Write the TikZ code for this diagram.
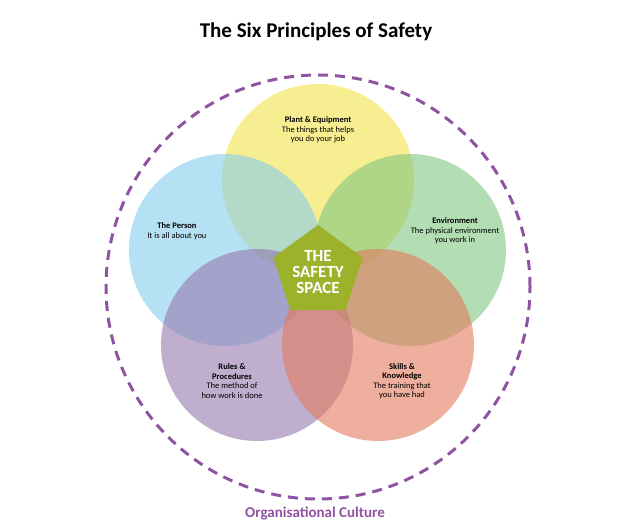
\documentclass[tikz,border=0pt]{standalone}
\usepackage{fontspec}
\setmainfont{Carlito}
\usetikzlibrary{shapes.geometric}
\definecolor{cy}{HTML}{F2E24A}
\definecolor{cb}{HTML}{86CDEE}
\definecolor{cg}{HTML}{80C67E}
\definecolor{cp}{HTML}{9478AE}
\definecolor{cr}{HTML}{E47A5E}
\definecolor{dash}{HTML}{8E54A2}
\definecolor{pent}{HTML}{9CB22A}
\tikzset{venn/.style={circle,minimum size=192pt,inner sep=0pt,fill opacity=0.6,text opacity=1},
lbl/.style={align=center,font=\fontsize{8.5}{9.5}\selectfont,text=black}}
\begin{document}
\begin{tikzpicture}[x=1pt,y=-1pt]
\useasboundingbox (0,0) rectangle (628,531);
\node (title) at (316,32) {\fontsize{21}{24}\selectfont\bfseries The Six Principles of Safety};
\node[circle,draw=dash,line width=3pt,dash pattern=on 10pt off 7pt,minimum size=424pt,inner sep=0pt] (culture) at (318,287) {};
\node[venn,fill=cy] (plant) at (318,180) {};
\node[venn,fill=cb] (person) at (225,250) {};
\node[venn,fill=cg] (env) at (410,250) {};
\node[venn,fill=cp] (rules) at (257,345) {};
\node[venn,fill=cr] (skills) at (378,345) {};
\node[regular polygon,regular polygon sides=5,fill=pent,minimum size=94pt,inner sep=0pt,align=center,text=white,font=\fontsize{17}{16}\selectfont\bfseries] (core) at (318,272) {THE\\SAFETY\\SPACE};
\node[lbl] (tplant) at (318,130) {\textbf{Plant \& Equipment}\\The things that helps\\you do your job};
\node[lbl] (tperson) at (177,231) {\textbf{The Person}\\It is all about you};
\node[lbl] (tenv) at (455,231) {\textbf{Environment}\\The physical environment\\you work in};
\node[lbl] (trules) at (232,381) {\textbf{Rules \&}\\\textbf{Procedures}\\The method of\\how work is done};
\node[lbl] (tskills) at (402,381) {\textbf{Skills \&}\\\textbf{Knowledge}\\The training that\\you have had};
\node[text=dash,font=\fontsize{15}{17}\selectfont\bfseries] (tculture) at (315,513) {Organisational Culture};
\end{tikzpicture}
\end{document}
